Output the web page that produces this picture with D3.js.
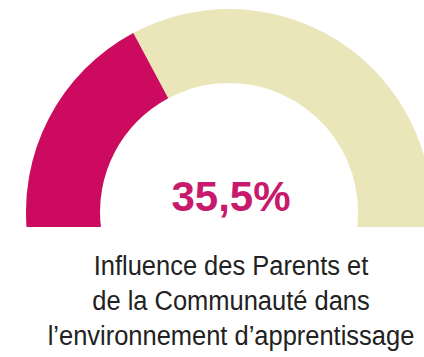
<!DOCTYPE html>
<html>
<head>
<meta charset="utf-8">
<script src="https://cdn.jsdelivr.net/npm/d3@7"></script>
<style>
  html, body { margin: 0; padding: 0; background: #ffffff; }
  svg { display: block; }
</style>
</head>
<body>
<svg id="chart" width="424" height="357"></svg>
<script>
// Gauge data
const gaugeValue = 35.5;          // percent
const gaugeDomain = [0, 100];
const valueLabel = ["35,5%"];
const captionLines = [
  "Influence des Parents et",
  "de la Communauté dans",
  "l\u2019environnement d\u2019apprentissage"
];
const colors = { value: "#cc0a5f", track: "#ebe5ba", label: "#c81a6c", caption: "#222222" };

const svg = d3.select("#chart");
const W = 424, H = 357;
const cx = 229, cy = 212;
const outerR = 203, innerR = 129;
const baseY = 227;               // flat bottom edge of the gauge
const overshoot = 7 * Math.PI / 180;

// value -> angle, sweeping slightly past the horizontal on both sides
const angle = d3.scaleLinear()
  .domain(gaugeDomain)
  .range([-Math.PI / 2 - overshoot, Math.PI / 2 + overshoot]);

const arc = d3.arc().innerRadius(innerR).outerRadius(outerR);

svg.append("clipPath").attr("id", "gauge-clip")
  .append("rect").attr("x", 0).attr("y", 0).attr("width", W).attr("height", baseY);

const g = svg.append("g")
  .attr("clip-path", "url(#gauge-clip)")
  .append("g")
  .attr("transform", `translate(${cx},${cy})`);

// background track
g.append("path")
  .attr("d", arc({ startAngle: angle(gaugeDomain[0]), endAngle: angle(gaugeDomain[1]) }))
  .attr("fill", colors.track);

// value segment
g.append("path")
  .attr("d", arc({ startAngle: angle(gaugeDomain[0]), endAngle: angle(gaugeValue) }))
  .attr("fill", colors.value);

// value label
svg.append("text")
  .attr("x", 231)
  .attr("y", 211)
  .attr("text-anchor", "middle")
  .attr("font-family", "Liberation Sans, Arial, sans-serif")
  .attr("font-weight", "bold")
  .attr("font-size", 42)
  .attr("fill", colors.label)
  .text(valueLabel[0]);

// caption, slightly condensed
const captionX = 231;
svg.append("g")
  .attr("transform", `translate(${captionX},0) scale(0.91,1)`)
  .selectAll("text")
  .data(captionLines)
  .join("text")
  .attr("x", 0)
  .attr("y", (d, i) => 275 + i * 35)
  .attr("text-anchor", "middle")
  .attr("font-family", "Liberation Sans, Arial, sans-serif")
  .attr("font-size", 28)
  .attr("fill", colors.caption)
  .text(d => d);
</script>
</body>
</html>
